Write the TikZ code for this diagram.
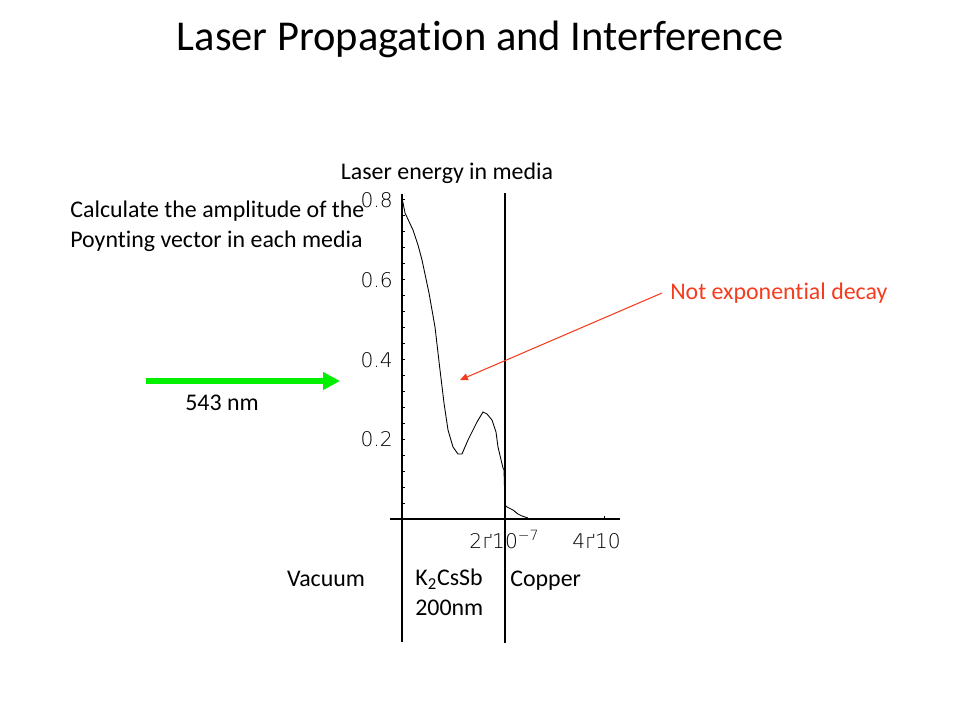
\documentclass[tikz,border=0pt]{standalone}
\usepackage{fontspec}
\setmainfont[Ligatures=NoCommon]{Carlito}
\newfontfamily\tickfont{DejaVu Sans ExtraLight}
\usetikzlibrary{calc}
\usetikzlibrary{arrows.meta}
\definecolor{notered}{RGB}{245,60,30}
\definecolor{beamgreen}{RGB}{0,240,0}

\begin{document}
\begin{tikzpicture}[x=0.02cm,y=-0.02cm,
  txt/.style={inner sep=0pt,font=\fontsize{13.6}{17}\selectfont},
  ticklbl/.style={inner sep=0pt,font=\tickfont\fontsize{11.5}{12}\selectfont}]
  \useasboundingbox (0,0) rectangle (960,720);
  \node[inner sep=0pt,anchor=base,font=\fontsize{24.2}{28}\selectfont]
    (title) at (480,51) {Laser Propagation and Interference};
  \node[txt,anchor=base] (energy) at (447,179) {Laser energy in media};
  \node[txt,anchor=west,align=left]
    (calc) at (70,226) {Calculate the amplitude of the\\Poynting vector in each media};
  % axes and media borders
  \draw[line width=1.4pt] (402,194) -- (402,527);
  \draw[line width=0.6pt] (402,527) -- (402,642);
  \draw[line width=0.6pt] (505,193) -- (505,643);
  \draw[line width=0.6pt] (390,519) -- (620,519);
  \foreach \k in {1,...,20}
    \draw[line width=0.5pt] (402,519-16*\k) -- ++(3,0);
  \foreach \v/\y/\n in {0.8/200/y8,0.6/280/y6,0.4/360/y4,0.2/439/y2}
    \node[ticklbl,anchor=east] (\n) at (393,\y) {\v};
  \draw[line width=0.5pt] (505,519) -- ++(0,-3);
  \draw[line width=0.5pt] (604,519) -- ++(0,-3);
  \node[ticklbl,anchor=base] (x2) at (504,548)
    {2ґ10\raisebox{0.7ex}{\fontsize{8}{8}\selectfont −7}};
  \node[ticklbl,anchor=base west] (x4) at (572,548) {4ґ10};
  % energy curve
  \draw[line width=0.5pt] plot coordinates {(402,198) (405,213) (413,230) (418,245)
    (422,260) (429,293) (435,327) (440,370) (444,403) (448,430) (453,447) (458,454)
    (462,454) (468,440) (473,430) (477,422) (483,412) (487,414) (492,420) (496,432)
    (498,447) (503,468) (504,470) (505,505) (507,507) (513,510) (518,514) (522,516)
    (528,518)};
  \draw[line width=1.2pt] (505,470) -- (505,505);
  % annotation
  \node[txt,inner sep=4.5pt,anchor=west,text=notered] (note) at (662,293) {Not exponential decay};
  \coordinate (tip) at (460,380);
  \draw[notered,line width=0.6pt,-{Triangle[length=4.5pt,width=4pt]}] (note.west) -- (tip);
  % laser beam
  \coordinate (beam0) at (146,381);
  \coordinate (beam1) at (340,381);
  \draw[beamgreen,line width=3.4pt,-{Triangle[length=9.6pt,width=9.6pt]}] (beam0) -- (beam1);
  \node[txt,anchor=base] (wl) at (222,410) {543 nm};
  % media
  \node[txt,anchor=base] (vac) at (326,586) {Vacuum};
  \node[txt,anchor=west,align=left] (kcs) at (415,592) {K\textsubscript{2}CsSb\\200nm};
  \node[txt,anchor=base west] (cu) at (510,586) {Copper};
\end{tikzpicture}
\end{document}
